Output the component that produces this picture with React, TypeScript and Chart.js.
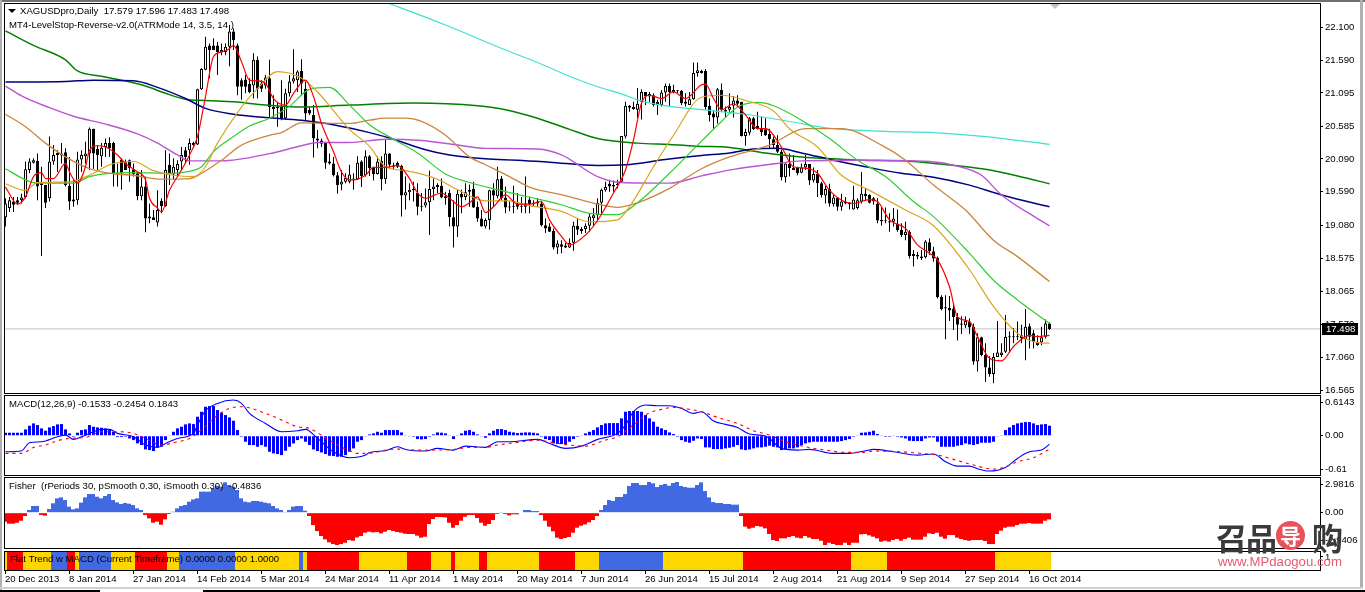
import React, { useEffect, useRef } from "react";
import { Chart, registerables } from "chart.js";

Chart.register(...registerables);

const FAMILY = '"Liberation Sans", Arial, sans-serif';
const FONT_SIZE = 9.6;
const FONT = `${FONT_SIZE}px ${FAMILY}`;
const OVERHANG = 20;

// open, high, low, close for each daily bar
const ohlc: number[][] = [
[19.20,19.49,19.06,19.41],[19.34,19.51,19.28,19.46],[19.44,19.51,19.28,19.39],[19.46,19.51,19.39,19.42],[19.46,19.56,19.41,19.50],
[19.51,20.05,19.49,19.93],[19.92,20.10,19.87,20.05],[20.03,20.10,20.02,20.07],[20.06,20.17,19.46,19.67],[19.72,19.97,18.61,19.69],
[19.69,19.69,19.34,19.42],[19.49,20.43,19.44,20.05],[20.05,20.30,20.00,20.15],[20.15,20.22,19.89,20.18],[20.14,20.33,20.02,20.17],
[20.19,20.25,19.67,19.69],[19.68,20.12,19.31,19.44],[19.44,19.77,19.36,19.47],[19.46,20.20,19.39,20.08],[20.08,20.22,19.89,20.15],
[20.13,20.35,20.02,20.17],[20.17,20.57,19.92,20.55],[20.55,20.55,19.94,20.17],[20.24,20.30,19.92,20.15],[20.13,20.33,19.97,20.26],
[20.27,20.40,20.12,20.33],[20.33,20.42,20.12,20.25],[20.33,20.35,19.67,19.87],[19.87,20.02,19.67,19.85],[20.08,20.10,19.62,19.87],
[20.04,20.08,19.92,19.92],[20.07,20.08,19.74,19.95],[19.93,20.02,19.82,19.86],[19.87,19.87,19.46,19.52],[19.52,19.92,19.46,19.67],
[19.67,19.82,18.97,19.18],[19.21,19.41,19.11,19.18],[19.20,19.31,19.16,19.16],[19.12,19.61,19.06,19.31],[19.45,19.49,19.26,19.37],
[19.37,20.22,19.36,19.92],[20.00,20.17,19.69,19.87],[19.85,20.10,19.77,19.97],[19.92,20.07,19.82,20.01],[20.05,20.27,19.92,20.15],
[20.22,20.27,20.02,20.12],[20.22,20.40,20.00,20.33],[20.33,20.35,20.25,20.30],[20.31,21.16,20.30,21.15],[21.15,21.47,21.14,21.46],
[21.45,21.95,21.44,21.80],[21.82,21.85,21.32,21.75],[21.82,21.93,21.75,21.75],[21.82,21.87,21.37,21.72],[21.75,21.85,21.67,21.71],
[21.72,21.85,21.67,21.80],[21.80,22.13,21.50,22.03],[22.03,22.08,21.75,21.90],[21.82,21.85,21.06,21.19],[21.29,21.32,20.99,21.19],
[21.30,21.37,21.09,21.19],[21.23,21.32,21.09,21.11],[21.21,21.70,21.01,21.60],[21.60,21.65,21.01,21.16],[21.24,21.29,21.11,21.16],
[21.21,21.37,21.16,21.33],[21.32,21.60,20.73,20.88],[20.88,21.06,20.73,20.85],[20.88,20.94,20.58,20.86],[20.88,21.29,20.68,20.70],
[20.71,21.16,20.69,21.09],[21.09,21.37,21.04,21.27],[21.27,21.76,21.24,21.32],[21.29,21.44,21.11,21.42],[21.43,21.61,21.06,21.24],
[21.16,21.29,20.68,20.78],[20.84,20.88,20.76,20.78],[20.76,20.91,20.11,20.40],[20.40,20.53,20.25,20.37],[20.37,20.40,20.27,20.32],
[20.33,20.35,19.94,20.03],[20.05,20.17,20.00,20.02],[20.02,20.12,19.82,19.84],[19.84,19.89,19.56,19.69],[19.70,19.92,19.61,19.74],
[19.74,19.87,19.72,19.80],[19.74,20.00,19.72,19.85],[19.79,19.87,19.62,19.77],[19.78,20.13,19.77,20.03],[20.05,20.07,19.66,19.83],
[19.84,20.22,19.82,20.13],[20.13,20.15,19.83,19.95],[19.95,19.97,19.76,19.86],[19.86,20.13,19.85,20.05],[20.06,20.13,19.61,19.78],
[19.78,20.38,19.71,20.17],[20.17,20.18,19.96,20.00],[19.99,20.03,19.93,19.97],[20.03,20.05,19.95,19.97],[19.98,20.00,19.21,19.53],
[19.53,19.82,19.32,19.58],[19.58,19.72,19.46,19.62],[19.63,19.74,19.44,19.61],[19.57,19.72,19.23,19.36],[19.37,19.57,19.29,19.36],
[19.38,19.64,19.35,19.43],[19.43,19.91,18.93,19.63],[19.63,19.79,19.46,19.67],[19.66,19.72,19.57,19.69],[19.68,19.79,19.49,19.50],
[19.52,19.59,19.39,19.49],[19.57,19.62,19.06,19.20],[19.20,19.46,18.74,19.06],[19.06,19.62,18.90,19.56],[19.56,19.62,19.26,19.50],
[19.51,19.72,19.46,19.58],[19.59,19.70,19.36,19.62],[19.63,19.74,19.34,19.35],[19.36,19.44,19.13,19.18],[19.18,19.31,19.06,19.06],
[19.06,19.18,19.03,19.16],[19.16,19.62,19.01,19.61],[19.61,19.72,19.36,19.53],[19.52,19.97,19.49,19.78],[19.79,19.83,19.46,19.49],
[19.50,19.67,19.26,19.35],[19.36,19.44,19.29,19.35],[19.36,19.68,19.26,19.37],[19.41,19.57,19.32,19.36],[19.37,19.51,19.27,19.36],
[19.41,19.82,19.26,19.36],[19.47,19.51,19.26,19.40],[19.42,19.46,19.36,19.40],[19.44,19.49,19.36,19.41],[19.41,19.44,19.06,19.08],
[19.08,19.18,18.96,19.03],[19.06,19.11,18.98,18.98],[18.99,19.03,18.71,18.74],[18.74,18.85,18.64,18.80],[18.79,18.85,18.65,18.75],
[18.77,18.81,18.73,18.74],[18.74,18.88,18.73,18.81],[18.81,19.13,18.69,19.07],[19.07,19.18,18.93,19.01],[19.02,19.05,18.95,18.99],
[19.02,19.11,18.96,19.07],[19.07,19.26,18.98,19.21],[19.19,19.34,19.06,19.23],[19.23,19.49,19.13,19.42],[19.42,19.64,19.26,19.62],
[19.61,19.74,19.59,19.66],[19.71,19.77,19.59,19.67],[19.69,19.76,19.59,19.67],[19.69,19.77,19.64,19.71],[19.74,20.44,19.73,20.44],
[20.43,20.96,20.40,20.90],[20.90,20.91,20.81,20.87],[20.85,20.96,20.84,20.88],[20.84,21.17,20.71,20.93],[20.96,21.15,20.69,21.11],
[21.11,21.11,20.91,21.04],[21.04,21.11,20.96,21.08],[21.06,21.09,20.89,20.91],[20.96,20.99,20.76,20.91],[20.91,21.14,20.89,21.10],
[21.10,21.24,20.96,21.20],[21.20,21.24,20.89,21.11],[21.14,21.22,21.09,21.11],[21.13,21.14,21.09,21.12],[21.13,21.14,20.91,20.94],
[20.96,21.09,20.89,20.93],[20.91,21.11,20.91,21.00],[21.00,21.56,20.99,21.40],[21.40,21.56,21.34,21.44],[21.43,21.45,21.39,21.40],
[21.43,21.46,20.84,20.88],[20.90,21.01,20.66,20.76],[20.78,20.83,20.55,20.72],[20.72,21.17,20.63,21.15],[21.14,21.24,20.81,20.84],
[20.84,20.89,20.73,20.81],[20.84,21.09,20.81,20.88],[20.90,21.05,20.72,20.98],[20.98,21.06,20.88,20.93],[20.96,20.96,20.43,20.44],
[20.44,20.55,20.29,20.50],[20.49,20.73,20.45,20.71],[20.71,20.73,20.53,20.54],[20.59,20.81,20.54,20.54],[20.55,20.73,20.44,20.50],
[20.54,20.71,20.44,20.45],[20.47,20.55,20.25,20.39],[20.39,20.43,20.25,20.30],[20.30,20.45,20.18,20.20],[20.20,20.23,19.76,19.81],
[19.81,20.02,19.73,20.02],[20.01,20.17,19.82,19.95],[19.96,20.15,19.92,19.92],[19.95,19.97,19.84,19.87],[19.88,20.02,19.87,19.96],
[19.96,20.15,19.92,20.01],[20.01,20.01,19.69,19.76],[19.76,19.96,19.73,19.86],[19.86,19.92,19.51,19.72],[19.72,19.74,19.50,19.54],
[19.53,19.68,19.41,19.63],[19.63,19.71,19.36,19.41],[19.40,19.54,19.36,19.50],[19.50,19.51,19.30,19.36],[19.36,19.56,19.30,19.44],
[19.44,19.51,19.40,19.41],[19.42,19.43,19.32,19.40],[19.32,19.68,19.32,19.47],[19.34,19.49,19.32,19.46],[19.44,19.89,19.41,19.56],
[19.56,19.64,19.46,19.52],[19.54,19.55,19.41,19.42],[19.49,19.51,19.39,19.44],[19.41,19.49,19.11,19.15],[19.16,19.36,19.07,19.14],
[19.15,19.35,19.11,19.14],[19.14,19.26,18.98,19.12],[19.13,19.34,19.06,19.18],[19.10,19.32,18.98,19.00],[19.01,19.11,18.90,18.93],
[18.93,19.13,18.85,18.98],[18.98,19.00,18.57,18.61],[18.64,18.70,18.45,18.61],[18.63,18.67,18.56,18.60],[18.60,18.70,18.55,18.58],
[18.59,18.85,18.57,18.83],[18.82,18.88,18.63,18.68],[18.68,18.75,18.52,18.57],[18.58,18.60,17.96,17.98],[17.99,18.01,17.78,17.80],
[17.83,18.01,17.34,17.81],[17.82,18.00,17.62,17.78],[17.80,17.88,17.48,17.68],[17.68,17.74,17.32,17.56],[17.58,17.69,17.42,17.56],
[17.55,17.69,17.51,17.62],[17.61,17.66,17.42,17.52],[17.53,17.58,16.95,17.00],[17.00,17.43,16.85,17.37],[17.37,17.38,17.08,17.10],
[17.10,17.28,16.69,16.91],[16.91,17.08,16.77,16.81],[16.81,17.13,16.67,17.07],[17.07,17.62,17.07,17.14],[17.10,17.28,17.07,17.14],
[17.15,17.71,17.13,17.38],[17.38,17.46,17.13,17.37],[17.38,17.51,17.28,17.37],[17.38,17.61,17.33,17.37],[17.40,17.56,17.28,17.35],
[17.34,17.80,17.02,17.53],[17.54,17.58,17.20,17.38],[17.43,17.48,17.20,17.30],[17.30,17.40,17.24,17.25],[17.29,17.53,17.25,17.37],
[17.38,17.64,17.35,17.58],[17.579,17.596,17.483,17.498],
];

// moving averages as [bar index, price] readings
const maCyan = [[95,22.48],[110,22.13],[125,21.75],[133,21.56],[141,21.35],[148,21.19],[154,21.08],[158,20.99],[166,20.89],[174,20.84],[185,20.77],[196,20.66],[207,20.55],[220,20.51],[232,20.49],[245,20.43],[261,20.31]];
const maDarkGreen = [[0,22.04],[7,21.82],[15,21.60],[18,21.43],[24,21.35],[29,21.29],[35,21.20],[40,21.09],[45,21.00],[50,20.98],[57,20.96],[65,20.91],[74,20.88],[86,20.91],[102,20.94],[118,20.90],[125,20.84],[133,20.71],[141,20.54],[148,20.40],[158,20.33],[166,20.31],[174,20.28],[180,20.27],[190,20.18],[199,20.12],[207,20.09],[214,20.07],[224,20.06],[234,20.01],[245,19.93],[253,19.83],[261,19.71]];
const maNavy = [[0,21.26],[15,21.27],[22,21.29],[32,21.28],[38,21.18],[45,21.01],[50,20.86],[57,20.77],[65,20.72],[74,20.68],[79,20.64],[86,20.56],[91,20.49],[97,20.39],[105,20.23],[111,20.15],[120,20.09],[128,20.07],[136,20.04],[148,19.99],[155,20.00],[165,20.08],[174,20.14],[181,20.18],[187,20.24],[193,20.25],[199,20.18],[207,20.07],[215,19.97],[224,19.87],[232,19.81],[241,19.69],[249,19.54],[261,19.36]];
const maOrchid = [[0,21.20],[4,21.05],[11,20.87],[17,20.74],[25,20.62],[33,20.47],[38,20.33],[43,20.15],[46,20.06],[54,20.06],[66,20.17],[74,20.29],[78,20.34],[86,20.34],[95,20.39],[104,20.37],[112,20.31],[120,20.25],[133,20.24],[139,20.15],[148,19.82],[154,19.73],[166,19.72],[174,19.83],[182,19.93],[193,20.02],[199,20.06],[215,20.07],[231,20.05],[238,19.98],[244,19.84],[249,19.54],[258,19.18],[261,19.07]];
const maPeru = [[0,20.77],[5,20.58],[10,20.33],[15,20.12],[21,19.94],[26,19.87],[32,19.84],[39,19.78],[46,19.79],[49,19.87],[54,20.07],[59,20.30],[66,20.45],[69,20.49],[74,20.64],[86,20.63],[91,20.68],[95,20.71],[100,20.71],[104,20.66],[110,20.45],[116,20.12],[120,20.00],[126,19.82],[131,19.66],[140,19.53],[148,19.40],[153,19.35],[158,19.42],[166,19.64],[174,19.94],[181,20.12],[191,20.30],[200,20.55],[209,20.55],[219,20.30],[225,20.07],[232,19.69],[240,19.31],[247,18.85],[253,18.60],[261,18.22]];
const maLime = [[0,19.94],[5,19.77],[8,19.72],[17,19.72],[21,19.82],[26,19.87],[32,19.88],[41,19.87],[46,19.90],[49,19.97],[52,20.20],[57,20.43],[61,20.59],[66,20.71],[71,20.89],[76,21.15],[81,21.18],[86,20.91],[91,20.61],[97,20.39],[103,20.18],[110,19.86],[116,19.73],[123,19.62],[130,19.52],[139,19.39],[146,19.26],[153,19.24],[158,19.42],[166,19.87],[174,20.36],[179,20.66],[183,20.88],[188,20.95],[192,20.90],[199,20.68],[206,20.40],[213,20.07],[220,19.82],[227,19.44],[232,19.21],[241,18.65],[247,18.24],[253,17.94],[261,17.58]];
const maGold = [[0,19.71],[5,19.61],[8,19.73],[16,19.74],[22,19.87],[26,20.00],[32,20.05],[37,19.91],[42,19.84],[47,19.82],[50,19.97],[53,20.33],[59,20.88],[63,21.16],[68,21.42],[74,21.32],[78,21.11],[86,20.54],[91,20.28],[95,19.97],[100,19.91],[108,19.78],[113,19.62],[120,19.45],[126,19.45],[130,19.39],[139,19.29],[146,19.13],[153,19.16],[156,19.36],[162,19.97],[167,20.45],[174,21.03],[179,21.06],[185,20.98],[192,20.82],[196,20.55],[203,20.27],[209,19.84],[216,19.61],[225,19.31],[232,19.07],[241,18.40],[247,17.84],[253,17.43],[258,17.29],[261,17.28]];
const fastRed = [[0,19.66],[3,19.40],[5,19.51],[7,19.82],[9,19.88],[10,19.79],[12,19.79],[15,20.02],[16,19.89],[18,19.72],[20,19.97],[21,20.22],[23,20.29],[25,20.27],[28,20.15],[30,20.02],[33,19.89],[35,19.77],[36,19.49],[38,19.34],[39,19.28],[41,19.61],[44,19.92],[46,20.15],[48,20.43],[50,21.04],[52,21.65],[54,21.72],[56,21.77],[57,21.82],[59,21.57],[61,21.29],[63,21.28],[65,21.24],[67,21.01],[70,20.91],[72,21.09],[75,21.29],[77,21.04],[79,20.63],[82,20.20],[84,19.89],[86,19.77],[87,19.77],[90,19.84],[92,19.96],[95,19.96],[98,19.99],[101,19.79],[103,19.57],[105,19.49],[109,19.57],[111,19.49],[114,19.36],[116,19.42],[118,19.51],[120,19.27],[122,19.36],[125,19.54],[128,19.40],[131,19.40],[134,19.44],[136,19.16],[139,18.91],[141,18.78],[145,18.93],[148,19.15],[152,19.57],[155,19.92],[157,20.38],[159,20.94],[161,21.06],[164,21.01],[167,21.11],[170,21.01],[174,21.22],[175,21.23],[177,21.01],[179,20.84],[182,20.93],[185,20.76],[188,20.55],[190,20.55],[194,20.27],[197,19.97],[200,19.95],[203,19.87],[206,19.61],[209,19.46],[212,19.41],[216,19.47],[218,19.44],[221,19.16],[225,19.03],[228,18.78],[231,18.65],[233,18.55],[236,18.14],[238,17.68],[241,17.61],[243,17.38],[246,17.05],[249,17.01],[252,17.23],[256,17.40],[258,17.38],[261,17.40]];

const lastClose = 17.498;
const priceLabel = "17.498";

const macdHist = [
0.055,0.055,0.055,0.055,0.055,0.116,0.183,0.226,0.196,0.135,0.092,0.153,0.177,0.208,0.214,0.116,0.043,-0.018,0.055,0.104,0.116,0.196,0.165,0.153,0.147,0.135,0.116,0.073,-0.024,-0.024,-0.018,-0.049,-0.08,-0.14,-0.171,-0.251,-0.263,-0.281,-0.214,-0.202,-0.08,0.012,0.073,0.135,0.165,0.208,0.226,0.214,0.349,0.44,0.532,0.544,0.544,0.471,0.422,0.379,0.336,0.275,0.104,-0.018,-0.11,-0.171,-0.171,-0.202,-0.171,-0.202,-0.294,-0.324,-0.336,-0.355,-0.275,-0.202,-0.141,-0.08,-0.049,-0.11,-0.171,-0.251,-0.281,-0.306,-0.336,-0.367,-0.373,-0.385,-0.385,-0.355,-0.294,
-0.232,-0.11,-0.08,-0.006,0.024,0.043,0.073,0.055,0.104,0.104,0.104,0.104,0.061,0.012,-0.006,-0.018,-0.061,-0.067,-0.061,-0.018,0.024,0.061,0.055,0.043,0.006,-0.061,0.012,0.043,0.092,0.104,0.073,0.024,-0.006,-0.037,0.043,0.092,0.122,0.122,0.104,0.073,0.061,0.049,0.055,0.061,0.061,0.055,0.043,-0.018,-0.061,-0.08,-0.141,-0.153,-0.153,-0.153,-0.11,-0.061,-0.018,0.006,0.043,0.073,0.104,0.153,0.196,0.226,0.232,0.232,0.232,0.318,0.44,0.453,0.453,0.453,0.44,0.379,0.318,0.257,0.165,0.135,0.104,0.061,0.031,-0.018,-0.08,-0.11,-0.128,-0.092,-0.049,
-0.061,-0.214,-0.214,-0.245,-0.245,-0.245,-0.232,-0.22,-0.202,-0.171,-0.251,-0.263,-0.251,-0.232,-0.214,-0.214,-0.202,-0.183,-0.202,-0.214,-0.263,-0.245,-0.232,-0.232,-0.214,-0.171,-0.141,-0.122,-0.11,-0.11,-0.11,-0.11,-0.11,-0.11,-0.11,-0.098,-0.08,-0.061,-0.018,0.012,0.055,0.061,0.073,0.092,0.031,0.006,-0.018,-0.018,0.006,-0.018,-0.031,-0.049,-0.092,-0.098,-0.098,-0.098,-0.049,-0.031,-0.031,-0.11,-0.202,-0.202,-0.202,-0.202,-0.183,-0.171,-0.141,-0.159,-0.171,-0.153,-0.128,-0.128,-0.128,-0.11,-0.006,0.012,0.104,0.153,0.196,0.226,0.239,0.251,0.251,0.226,0.196,0.208,0.214,0.184,
];
const macdLine = [[0,-0.294],[4,-0.275],[6,-0.128],[9,-0.11],[13,-0.018],[15,0.012],[17,-0.067],[19,-0.018],[22,0.073],[24,0.116],[26,0.116],[28,0.043],[32,-0.018],[35,-0.171],[38,-0.214],[40,-0.141],[43,-0.049],[47,0.043],[48,0.196],[50,0.459],[53,0.593],[57,0.654],[59,0.593],[61,0.41],[65,0.226],[69,0.073],[73,0.092],[75,0.116],[78,-0.049],[82,-0.294],[86,-0.404],[90,-0.355],[91,-0.306],[95,-0.275],[98,-0.202],[100,-0.251],[105,-0.281],[108,-0.232],[112,-0.263],[115,-0.19],[120,-0.214],[123,-0.11],[126,-0.11],[133,-0.067],[136,-0.141],[140,-0.232],[144,-0.19],[148,-0.067],[153,0.043],[155,0.196],[157,0.44],[160,0.563],[163,0.55],[166,0.55],[169,0.50],[172,0.41],[174,0.44],[177,0.269],[180,0.208],[183,0.153],[186,0.031],[190,-0.006],[194,-0.232],[198,-0.263],[201,-0.251],[207,-0.324],[211,-0.324],[215,-0.275],[217,-0.251],[222,-0.294],[228,-0.355],[232,-0.336],[235,-0.477],[238,-0.557],[241,-0.557],[243,-0.606],[246,-0.648],[250,-0.581],[253,-0.416],[256,-0.294],[259,-0.263],[261,-0.153]];
const macdSignal = [[0,-0.324],[4,-0.324],[7,-0.214],[10,-0.171],[13,-0.092],[16,-0.049],[20,-0.031],[24,0.073],[28,0.073],[32,0.043],[35,-0.049],[39,-0.171],[42,-0.128],[46,-0.049],[49,0.104],[52,0.318],[56,0.502],[59,0.532],[65,0.41],[70,0.257],[73,0.165],[76,0.135],[79,0.012],[83,-0.171],[86,-0.275],[88,-0.324],[92,-0.312],[95,-0.263],[98,-0.245],[103,-0.263],[106,-0.263],[112,-0.251],[116,-0.214],[120,-0.214],[123,-0.171],[128,-0.122],[133,-0.08],[137,-0.128],[141,-0.171],[145,-0.19],[150,-0.08],[153,-0.018],[157,0.196],[161,0.422],[164,0.483],[167,0.52],[171,0.483],[174,0.44],[178,0.336],[183,0.226],[187,0.092],[191,0.012],[195,-0.11],[200,-0.202],[205,-0.263],[210,-0.306],[214,-0.306],[217,-0.281],[224,-0.294],[229,-0.324],[233,-0.355],[237,-0.434],[242,-0.538],[247,-0.612],[250,-0.569],[253,-0.477],[257,-0.404],[261,-0.245]];

const fisher = [
-0.94,-1.15,-1.15,-1.05,-0.84,-0.35,0.28,0.70,0.70,-0.24,-0.31,0.38,0.98,1.50,1.60,1.32,0.63,0.35,0.45,1.05,1.60,1.95,1.95,1.67,1.50,1.74,1.95,1.32,1.08,0.91,1.01,0.94,0.80,0.45,0.28,-0.24,-0.59,-1.05,-0.94,-1.25,-0.70,-0.14,0.10,0.45,0.70,0.80,1.15,1.39,1.50,2.20,2.20,2.20,2.54,2.82,2.72,3.17,2.89,2.72,2.37,1.50,1.15,1.08,1.22,1.22,1.15,1.05,0.98,0.70,0.45,0.28,0.03,0.28,0.63,0.70,0.70,0.21,-0.35,-1.29,-1.92,-2.44,-2.79,-3.10,-3.28,-3.38,-3.28,-3.14,-2.86,
-2.93,-2.58,-2.44,-2.09,-1.99,-2.06,-2.02,-2.16,-1.99,-1.81,-1.92,-2.02,-2.09,-2.20,-2.23,-2.23,-2.40,-2.61,-2.51,-1.18,-0.66,-0.45,-0.45,-0.49,-1.05,-1.57,-1.29,-0.84,-0.42,-0.24,-0.24,-0.56,-1.05,-1.36,-1.18,-0.77,-0.14,0.03,-0.14,-0.28,-0.17,-0.17,0.05,0.28,0.28,0.17,0.17,-0.24,-0.84,-1.46,-1.95,-2.61,-2.75,-2.65,-2.54,-2.09,-1.57,-1.36,-1.22,-1.01,-0.77,-0.35,0.28,0.80,1.32,1.22,1.64,1.64,1.95,2.79,3.10,3.10,2.89,2.89,3.21,3.07,2.68,2.89,3.00,2.82,3.10,3.21,2.79,2.68,2.61,2.61,2.89,
3.17,2.26,1.60,1.11,1.01,1.01,0.91,0.91,0.84,0.84,-0.35,-1.46,-1.67,-1.57,-1.39,-1.46,-1.64,-2.23,-2.86,-2.96,-2.68,-2.68,-2.54,-2.44,-2.61,-2.68,-2.44,-2.61,-2.75,-2.75,-2.93,-3.38,-3.14,-3.28,-3.38,-3.38,-3.14,-3.38,-3.14,-3.14,-2.26,-2.23,-2.37,-2.51,-2.68,-3.03,-2.93,-3.03,-2.86,-2.75,-2.93,-2.75,-2.61,-2.82,-2.82,-2.82,-2.51,-2.16,-2.23,-2.09,-2.51,-2.72,-2.33,-2.33,-2.61,-2.75,-2.86,-2.93,-2.86,-2.86,-2.86,-2.96,-3.28,-3.28,-2.23,-1.88,-1.57,-1.46,-1.46,-1.29,-1.15,-1.15,-1.08,-1.15,-1.15,-1.15,-0.84,-0.70,
];

// runs of the trend band: how many bars, and which state
const bandCounts = [1,4,7,4,2,1,8,6,8,3,14,16,1,1,13,12,6,5,1,6,2,13,9,6,16,20,27,9,27,14];
const bandStates = ["flat","down","flat","up","down","flat","up","flat","down","flat","up","flat","up","flat","down","flat","down","flat","down","flat","down","flat","down","flat","up","flat","down","flat","down","flat"];
const bandLevel = 1.46;

const priceTicks = ["22.100","21.590","21.095","20.585","20.090","19.590","19.080","18.575","18.065","17.570","17.060","16.565"];
const macdTicks = ["0.6143","0.00","-0.61"];
const fisherTicks = ["2.9816","0.00","-2.9406"];
const bandTicks = ["1"];
const dateLabels = ["20 Dec 2013","8 Jan 2014","27 Jan 2014","14 Feb 2014","5 Mar 2014","24 Mar 2014","11 Apr 2014","1 May 2014","20 May 2014","7 Jun 2014","26 Jun 2014","15 Jul 2014","2 Aug 2014","21 Aug 2014","9 Sep 2014","27 Sep 2014","16 Oct 2014"];
const dateEvery = 16;

const titleMain = "XAGUSDpro,Daily  17.579 17.596 17.483 17.498";
const titleStop = "MT4-LevelStop-Reverse-v2.0(ATRMode 14, 3.5, 14 )";
const titleMacd = "MACD(12,26,9) -0.1533 -0.2454 0.1843";
const titleFisher = "Fisher  (rPeriods 30, pSmooth 0.30, iSmooth 0.30)  -0.4836";
const titleBand = "Flat Trend w MACD (Current Timeframe) 0.0000 0.0000 1.0000";

const BAND_COLORS: Record<string, string> = { flat: "#FFD700", down: "#FF0000", up: "#4169E1" };

const pairs = (list: number[][]) => list.map(([x, y]) => ({ x, y }));

const line = (data: number[][], color: string, width: number, order: number, extra: any = {}) => ({
  type: "line",
  data: pairs(data),
  borderColor: color,
  borderWidth: width,
  pointRadius: 0,
  cubicInterpolationMode: "monotone",
  order,
  ...extra,
});

const noBarExtras = { inflateAmount: 0, borderSkipped: false, grouped: false };

type PanelSpec = {
  top: number;
  bottom: number;
  xMin: number;
  yMin: number;
  yMax: number;
  ticks: string[];
  datasets: any[];
  texts: { text: string; x: number; y: number }[];
  showDates?: boolean;
  extraDraw?: (chart: any) => void;
};

function makePanel(canvas: HTMLCanvasElement, spec: PanelSpec) {
  const framePlugin = {
    id: "frame",
    afterDraw(chart: any) {
      const { ctx, chartArea: a } = chart;
      ctx.save();
      ctx.strokeStyle = "#000";
      ctx.lineWidth = 1;
      ctx.strokeRect(a.left + 0.5, a.top + 0.5, a.right - a.left, a.bottom - a.top);
      ctx.translate(0, OVERHANG);
      ctx.font = FONT;
      ctx.fillStyle = "#000";
      ctx.textBaseline = "middle";
      spec.texts.forEach((t) => ctx.fillText(t.text, t.x, t.y));
      if (spec.extraDraw) spec.extraDraw(chart);
      ctx.restore();
    },
  };
  return new Chart(canvas, {
    type: "bar",
    data: { datasets: spec.datasets },
    plugins: [framePlugin],
    options: {
      animation: false,
      responsive: false,
      devicePixelRatio: 1,
      layout: {
        padding: {
          left: 4,
          right: 0,
          top: spec.top + OVERHANG,
          bottom: spec.showDates ? 0 : 592 - spec.bottom,
        },
      },
      plugins: { legend: { display: false }, tooltip: { enabled: false }, title: { display: false } },
      scales: {
        x: {
          type: "linear",
          offset: false,
          display: !!spec.showDates,
          min: spec.xMin,
          max: spec.xMin + 329,
          afterBuildTicks: (s: any) => {
            s.ticks = dateLabels.map((_, k) => ({ value: k * dateEvery }));
          },
          afterFit: (s: any) => {
            s.height = spec.showDates ? 592 - spec.bottom : 0;
          },
          grid: { offset: false, drawOnChartArea: false, drawTicks: true, tickLength: 4, color: "#000" },
          border: { display: false },
          ticks: {
            autoSkip: false,
            maxRotation: 0,
            minRotation: 0,
            align: "start",
            padding: 0,
            color: "#000",
            font: { family: FAMILY, size: FONT_SIZE },
            callback: (_v: any, i: number) => dateLabels[i],
          },
        },
        y: {
          type: "linear",
          position: "right",
          min: spec.yMin,
          max: spec.yMax,
          afterBuildTicks: (s: any) => {
            s.ticks = spec.ticks.map((t) => ({ value: parseFloat(t) }));
          },
          afterFit: (s: any) => {
            s.width = 45;
          },
          grid: { drawOnChartArea: false, drawTicks: true, tickLength: 3, color: "#000" },
          border: { display: false },
          ticks: {
            autoSkip: false,
            padding: 2,
            color: "#000",
            font: { family: FAMILY, size: FONT_SIZE },
            callback: (_v: any, i: number) => spec.ticks[i],
          },
        },
      },
    } as any,
  } as any);
}

export default function App() {
  const mainRef = useRef<HTMLCanvasElement>(null);
  const macdRef = useRef<HTMLCanvasElement>(null);
  const fisherRef = useRef<HTMLCanvasElement>(null);
  const bandRef = useRef<HTMLCanvasElement>(null);

  useEffect(() => {
    const wicks = ohlc.map((c, i) => ({ x: i, y: [c[2], c[1]] }));
    const bodies = ohlc.map((c, i) => ({ x: i, y: [c[0], c[3]] }));
    const bodyFill = ohlc.map((c) => (c[3] >= c[0] ? "#fff" : "#000"));

    const candleSets = [
      { data: wicks, backgroundColor: "#000", barThickness: 1, order: 30, ...noBarExtras },
      { data: bodies, backgroundColor: bodyFill, borderColor: "#000", borderWidth: 1, barThickness: 3, minBarLength: 1, order: 29, ...noBarExtras },
    ];

    const main = makePanel(mainRef.current!, {
      top: 3,
      bottom: 393,
      xMin: -0.375,
      yMin: 16.521,
      yMax: 22.466,
      ticks: priceTicks,
      datasets: [
        line([[-1, lastClose], [329, lastClose]], "#C0C0C0", 1, 40),
        ...candleSets,
        line(maCyan, "#40E0D0", 1.2, 9),
        line(maDarkGreen, "#008000", 1.5, 8),
        line(maNavy, "#000080", 1.5, 7),
        line(maOrchid, "#BA55D3", 1.4, 6),
        line(maPeru, "#CD853F", 1.3, 5),
        line(maLime, "#32CD32", 1.2, 4),
        line(maGold, "#DAA520", 1.2, 3),
        line(fastRed, "#FF0000", 1.2, 2),
      ],
      texts: [
        { text: titleMain, x: 20, y: 11 },
        { text: titleStop, x: 9, y: 25 },
      ],
      extraDraw: (chart) => {
        const { ctx, scales } = chart;
        const y = Math.round(scales.y.getPixelForValue(lastClose)) - OVERHANG;
        ctx.fillStyle = "#000";
        ctx.fillRect(1322, y - 6, 36, 12);
        ctx.fillStyle = "#fff";
        ctx.fillText(priceLabel, 1326, y + 0.5);
        ctx.fillStyle = "#000";
        ctx.beginPath();
        ctx.moveTo(8, 9);
        ctx.lineTo(16, 9);
        ctx.lineTo(12, 13);
        ctx.closePath();
        ctx.fill();
        ctx.fillStyle = "#C0C0C0";
        ctx.beginPath();
        ctx.moveTo(1050, 4);
        ctx.lineTo(1060, 4);
        ctx.lineTo(1055, 9);
        ctx.closePath();
        ctx.fill();
      },
    });

    const macd = makePanel(macdRef.current!, {
      top: 395,
      bottom: 475,
      xMin: -0.375,
      yMin: -0.72,
      yMax: 0.747,
      ticks: macdTicks,
      datasets: [
        { data: macdHist.map((v, i) => ({ x: i, y: v })), backgroundColor: "#0000FF", barThickness: 3, order: 10, ...noBarExtras },
        line(macdLine, "#0000FF", 1.1, 2),
        line(macdSignal, "#FF0000", 1.1, 1, { borderDash: [3, 4] }),
      ],
      texts: [{ text: titleMacd, x: 9, y: 404 }],
    });

    const fish = makePanel(fisherRef.current!, {
      top: 477,
      bottom: 548,
      xMin: -0.25,
      yMin: -3.69,
      yMax: 3.73,
      ticks: fisherTicks,
      datasets: [
        {
          data: fisher.map((v, i) => ({ x: i, y: v })),
          backgroundColor: fisher.map((v) => (v >= 0 ? "#4169E1" : "#FF0000")),
          barThickness: 4,
          ...noBarExtras,
        },
      ],
      texts: [{ text: titleFisher, x: 9, y: 486 }],
    });

    const bandColors: string[] = [];
    bandCounts.forEach((n, k) => {
      for (let j = 0; j < n; j++) bandColors.push(BAND_COLORS[bandStates[k]]);
    });
    const band = makePanel(bandRef.current!, {
      top: 551,
      bottom: 570,
      xMin: -0.25,
      yMin: 0,
      yMax: bandLevel,
      ticks: bandTicks,
      showDates: true,
      datasets: [
        {
          data: bandColors.map((_, i) => ({ x: i, y: bandLevel })),
          backgroundColor: bandColors,
          barThickness: 4,
          ...noBarExtras,
        },
      ],
      texts: [{ text: titleBand, x: 10, y: 559 }],
    });

    return () => {
      main.destroy();
      macd.destroy();
      fish.destroy();
      band.destroy();
    };
  }, []);

  const layer: React.CSSProperties = { position: "absolute", left: 0, top: -OVERHANG, display: "block" };
  const bar = (left: number, top: number, width: number, height: number, background: string) => (
    <div style={{ position: "absolute", left, top, width, height, background }} />
  );
  const cjk: React.CSSProperties = {
    position: "absolute",
    fontFamily: '"Noto Sans CJK SC", sans-serif',
    fontWeight: 700,
    lineHeight: 1,
    color: "#3A3A3A",
    whiteSpace: "nowrap",
  };
  const h = 592 + OVERHANG;

  return (
    <div style={{ position: "absolute", left: 0, top: 0, width: 1365, height: 592, overflow: "hidden", background: "#fff" }}>
      {bar(0, 0, 1365, 2, "#707070")}
      {bar(0, 0, 2, 592, "#B0B0B0")}
      {bar(1360, 0, 3, 588, "#B0B0B0")}
      {bar(0, 587, 1363, 2, "#D0D0D0")}
      {bar(0, 590, 100, 2, "#000")}
      {bar(203, 590, 1162, 2, "#000")}
      <canvas ref={mainRef} width={1365} height={h} style={layer} />
      <canvas ref={macdRef} width={1365} height={h} style={layer} />
      <canvas ref={fisherRef} width={1365} height={h} style={layer} />
      <canvas ref={bandRef} width={1365} height={h} style={layer} />
      <div style={{ ...cjk, left: 1216, top: 521, fontSize: 31, letterSpacing: -1 }}>召品</div>
      <div style={{ position: "absolute", left: 1276, top: 521, width: 29, height: 29, borderRadius: "50%", background: "#E8505B" }} />
      <div style={{ ...cjk, left: 1280, top: 525, fontSize: 21, color: "#fff" }}>导</div>
      <div style={{ ...cjk, left: 1312, top: 521, fontSize: 31 }}>购</div>
      <div
        style={{
          position: "absolute",
          left: 1218,
          top: 554,
          fontFamily: FAMILY,
          fontSize: 13.2,
          lineHeight: "16px",
          color: "#E8596A",
          whiteSpace: "nowrap",
        }}
      >
        www.MPdaogou.com
      </div>
    </div>
  );
}
